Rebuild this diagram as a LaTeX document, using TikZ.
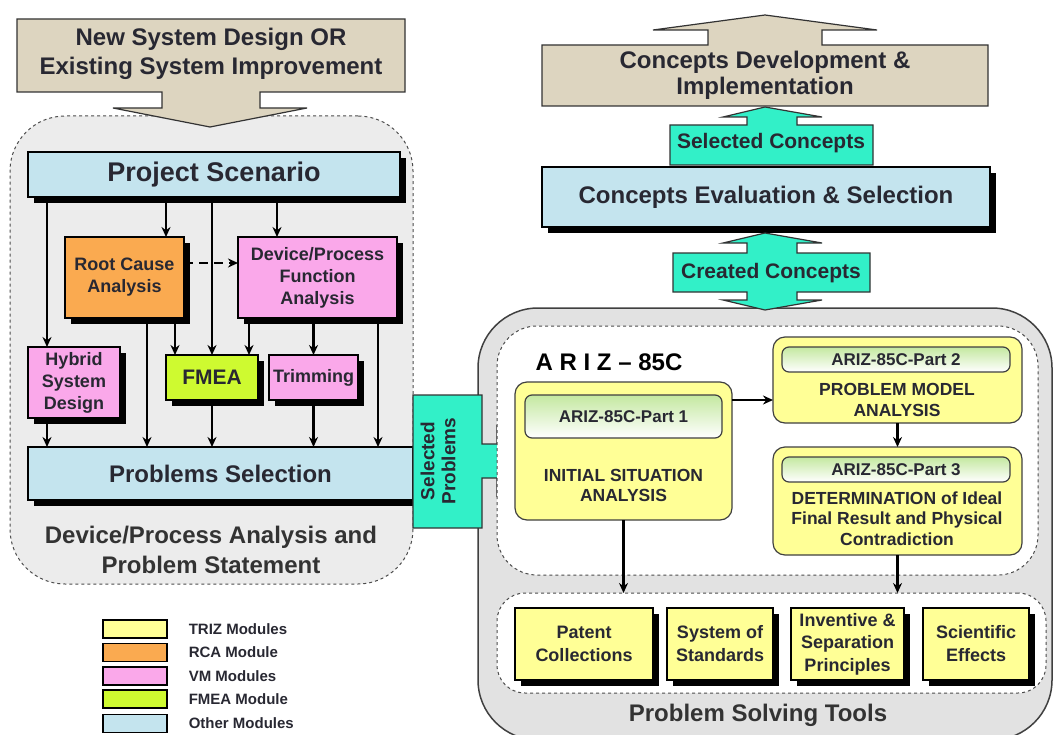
\documentclass[tikz,border=0pt]{standalone}
\usepackage{fontspec}
\setmainfont{Liberation Sans}
\usetikzlibrary{arrows.meta,positioning}
\definecolor{tanc}{RGB}{221,213,192}
\definecolor{skyc}{RGB}{196,228,238}
\definecolor{orangec}{RGB}{250,170,80}
\definecolor{pinkc}{RGB}{250,168,234}
\definecolor{limec}{RGB}{206,250,48}
\definecolor{yellowc}{RGB}{255,255,150}
\definecolor{tealc}{RGB}{50,240,200}
\definecolor{grayl}{RGB}{236,236,236}
\definecolor{grayr}{RGB}{226,226,226}
\definecolor{headg}{RGB}{196,232,160}
\definecolor{inkc}{RGB}{40,40,50}
\newcommand{\tsz}[2]{\fontsize{#1}{#2}\selectfont\bfseries}

\begin{document}
\begin{tikzpicture}[x=1pt,y=-1pt,
    box/.style={draw=black,line width=1.2pt,inner sep=0pt,outer sep=0pt,align=center,text=inkc},
    shade6/.style={preaction={fill=black,transform canvas={shift={(6,6)}}}},
    txt/.style={inner sep=0pt,align=center,text=inkc},
    arr/.style={line width=2.6pt,-{Stealth[length=10pt,width=9pt]}},
    bigarrow/.style={draw=black!80,line width=1.2pt,line join=miter},
    dashbox/.style={draw=black!70,dashed,line width=1pt,inner sep=0pt,outer sep=0pt},
    ybox/.style={box,fill=yellowc,draw=black!75,rounded corners=12pt},
    yhead/.style={box,draw=black!75,top color=headg,bottom color=white,rounded corners=7pt,font=\tsz{17}{19}},
    legbox/.style={draw=black,line width=1.2pt,minimum width=64pt,minimum height=18pt,inner sep=0pt},
    legtext/.style={inner sep=0pt,font=\tsz{15}{17},text=inkc}]
    \useasboundingbox (0,0) rectangle (1056,735);

    % device / process analysis
    \node[dashbox, fill=grayl, rounded corners=55pt, minimum width=403pt, minimum height=468pt] (lbox) at (211.5,350) {};
    \draw[bigarrow, fill=tanc] (17,19) -- (405,19) -- (405,92) -- (260,92) -- (260,108) -- (307,108) -- (210,127)
        -- (113,108) -- (162,108) -- (162,92) -- (17,92) -- cycle;
    \node[txt, font=\tsz{24}{29}] (nsd) at (211,53.5) {New System Design OR\\Existing System Improvement};

    \node[box, shade6, fill=skyc, minimum width=372pt, minimum height=45pt, font=\tsz{27}{30}] (ps) at (214,174.5) {Project Scenario};
    \node[box, shade6, fill=orangec, minimum width=119pt, minimum height=81pt, font=\tsz{18}{22}] (rca) at (124.5,277.5) {Root Cause\\Analysis};
    \node[box, shade6, fill=pinkc, minimum width=159pt, minimum height=81pt, font=\tsz{18}{22}] (dpfa) at (317.5,277.5) {Device/Process\\Function\\Analysis};
    \node[box, shade6, fill=pinkc, minimum width=92pt, minimum height=71pt, font=\tsz{18}{22}] (hsd) at (74,382.5) {Hybrid\\System\\Design};
    \node[box, shade6, fill=limec, minimum width=92pt, minimum height=45pt, font=\tsz{21}{23}] (fmea) at (212,377.5) {FMEA};
    \node[box, shade6, fill=pinkc, minimum width=89pt, minimum height=45pt, font=\tsz{18}{22}] (trim) at (313.5,377.5) {Trimming};
    \node[box, shade6, fill=skyc, minimum width=385pt, minimum height=53pt, font=\tsz{24}{26}] (psel) at (220.5,473.5) {Problems Selection};
    \node[txt, font=\tsz{24}{30}, text=black!80] (lcap) at (211,550) {Device/Process Analysis and\\Problem Statement};

    \draw[arr] (ps.south -| 47,0) -- (hsd.north -| 47,0);
    \draw[arr] (ps.south -| 166,0) -- (rca.north -| 166,0);
    \draw[arr] (ps.south -| fmea.north) -- (fmea.north);
    \draw[arr] (ps.south -| 277,0) -- (dpfa.north -| 277,0);
    \draw[arr, dash pattern=on 9pt off 6pt] (rca.east |- 0,263) -- (dpfa.west |- 0,263);
    \draw[arr] (rca.south -| 147,0) -- (psel.north -| 147,0);
    \draw[arr] (rca.south -| 175,0) -- (fmea.north -| 175,0);
    \draw[arr] (dpfa.south -| 249,0) -- (fmea.north -| 249,0);
    \draw[arr] (dpfa.south -| trim.north) -- (trim.north);
    \draw[arr] (dpfa.south -| 378,0) -- (psel.north -| 378,0);
    \draw[arr] (hsd.south -| 47,0) -- (psel.north -| 47,0);
    \draw[arr] (fmea.south) -- (fmea.south |- psel.north);
    \draw[arr] (trim.south) -- (trim.south |- psel.north);

    % concepts
    \draw[bigarrow, fill=tanc] (542,106) -- (542,45) -- (708,45) -- (708,30) -- (653,30) -- (765,15) -- (877,30)
        -- (822,30) -- (822,45) -- (988,45) -- (988,106) -- cycle;
    \node[txt, font=\tsz{24}{26}] (cdi) at (765,75) {Concepts Development \&\\Implementation};
    \draw[bigarrow, fill=tealc] (670,165) -- (670,125) -- (747,125) -- (747,117) -- (723,117) -- (765,107) -- (822,117)
        -- (797,117) -- (797,125) -- (873,125) -- (873,165) -- cycle;
    \node[txt, font=\tsz{21}{23}] (selc) at (771,143) {Selected Concepts};
    \node[box, shade6, fill=skyc, minimum width=448pt, minimum height=60pt, font=\tsz{24}{26}] (ces) at (766,197) {Concepts Evaluation \& Selection};

    % ariz and tools
    \node[draw=black!75, line width=1.5pt, fill=grayr, rounded corners=60pt, minimum width=574pt, minimum height=432pt, inner sep=0pt] (rbox) at (765,524) {};
    \draw[bigarrow, fill=tealc] (673,253) -- (747,253) -- (747,243) -- (723,243) -- (765,233) -- (822,243) -- (797,243)
        -- (797,253) -- (870,253) -- (870,292) -- (797,292) -- (797,300) -- (822,300) -- (765,310) -- (723,300)
        -- (747,300) -- (747,292) -- (673,292) -- cycle;
    \node[txt, font=\tsz{21}{23}] (crc) at (771,273) {Created Concepts};

    \draw[bigarrow, fill=tealc] (413,395) -- (482,395) -- (482,444) -- (497,444) -- (497,427) -- (515,461) -- (497,495)
        -- (497,478) -- (482,478) -- (482,528) -- (413,528) -- cycle;
    \node[txt, font=\tsz{19}{21}, rotate=90] (selp) at (438,461) {Selected\\Problems};

    \node[dashbox, fill=white, rounded corners=40pt, minimum width=541pt, minimum height=249pt] (ariz) at (767.5,450.5) {};
    \node[txt, font=\tsz{24}{26}, text=black] (ariztitle) at (609,362) {A R I Z -- 85C};

    \node[ybox, minimum width=217pt, minimum height=138pt] (p1) at (623.5,451) {};
    \node[yhead, minimum width=197pt, minimum height=43pt] (p1h) at (623.5,416.5) {ARIZ-85C-Part 1};
    \node[txt, font=\tsz{17.5}{20}] (p1t) at (623.5,485) {INITIAL SITUATION\\ANALYSIS};
    \node[ybox, minimum width=249pt, minimum height=86pt] (p2) at (897.5,380) {};
    \node[yhead, minimum width=228pt, minimum height=25pt] (p2h) at (896,359.5) {ARIZ-85C-Part 2};
    \node[txt, font=\tsz{17.5}{21}] (p2t) at (897,399.5) {PROBLEM MODEL\\ANALYSIS};
    \node[ybox, minimum width=249pt, minimum height=108pt] (p3) at (897.5,501) {};
    \node[yhead, minimum width=228pt, minimum height=25pt] (p3h) at (896,469.5) {ARIZ-85C-Part 3};
    \node[txt, font=\tsz{17.5}{20.5}] (p3t) at (897,518.5) {DETERMINATION of Ideal\\Final Result and Physical\\Contradiction};

    \node[dashbox, fill=white, rounded corners=28pt, minimum width=549pt, minimum height=100pt] (tools) at (771.5,643) {};
    \node[box, shade6, fill=yellowc, minimum width=138pt, minimum height=72pt, font=\tsz{18}{23}] (t1) at (584,644) {Patent\\Collections};
    \node[box, shade6, fill=yellowc, minimum width=106pt, minimum height=72pt, font=\tsz{18}{23}] (t2) at (720,644) {System of\\Standards};
    \node[box, shade6, fill=yellowc, minimum width=113pt, minimum height=72pt, font=\tsz{18}{22.5}] (t3) at (847.5,644) {Inventive \&\\Separation\\Principles};
    \node[box, shade6, fill=yellowc, minimum width=106pt, minimum height=72pt, font=\tsz{18}{23}] (t4) at (976,644) {Scientific\\Effects};
    \node[txt, font=\tsz{24}{26}, text=black!80] (pst) at (758,715) {Problem Solving Tools};

    \draw[arr] (p1.east |- 0,400) -- (p2.west |- 0,400);
    \draw[arr] (p2) -- (p3);
    \draw[arr] (p1.south) -- (p1.south |- tools.north);
    \draw[arr] (p3.south) -- (p3.south |- tools.north);

    % legend
    \node[legbox, fill=yellowc] (leg1) at (135,629) {};
    \node[legbox, fill=orangec] (leg2) at (135,652.5) {};
    \node[legbox, fill=pinkc] (leg3) at (135,676) {};
    \node[legbox, fill=limec] (leg4) at (135,699) {};
    \node[legbox, fill=skyc] (leg5) at (135,723.5) {};
    \node[legtext, right=21pt of leg1] (leg1t) {TRIZ Modules};
    \node[legtext, right=21pt of leg2] (leg2t) {RCA Module};
    \node[legtext, right=21pt of leg3] (leg3t) {VM Modules};
    \node[legtext, right=21pt of leg4] (leg4t) {FMEA Module};
    \node[legtext, right=21pt of leg5] (leg5t) {Other Modules};
\end{tikzpicture}
\end{document}
